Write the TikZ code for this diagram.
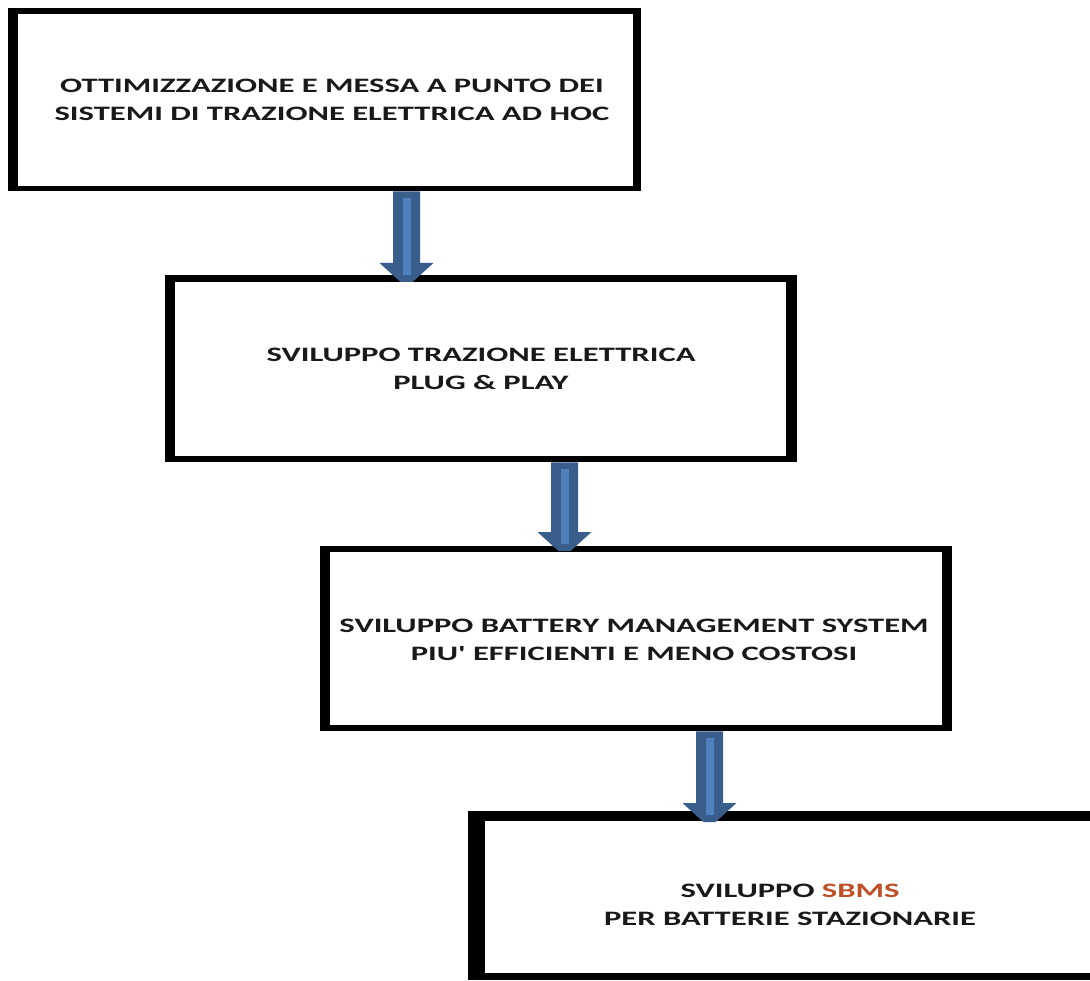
\documentclass[tikz,border=0pt]{standalone}
\usepackage{fontspec}
\setmainfont{Carlito}[Ligatures=TeXOff]
\usetikzlibrary{calc}
\definecolor{arrdark}{RGB}{58,94,140}
\definecolor{arrlight}{RGB}{79,129,189}
\definecolor{txt}{RGB}{25,25,25}
\definecolor{sbms}{RGB}{190,80,40}
\tikzset{
  outerbox/.style={fill=black, draw=none, inner sep=0pt, anchor=north west},
  innerbox/.style={fill=white, draw=none, inner sep=0pt, anchor=north west},
  label/.style={text=txt, font=\fontsize{20.5}{28}\selectfont\bfseries, align=center, inner sep=0pt, xscale=1.59, transform shape},
}
\newcommand\bluearrow[2]{%
  \fill[arrdark] let \p1=(#1), \p2=(#2) in
    (\x1-13.5pt,\y1) -- (\x1+13.5pt,\y1) -- (\x1+13.5pt,\y2+19pt) -- (\x1+27pt,\y2+19pt)
      -- (\x1+6pt,\y2) -- (\x1-6pt,\y2) -- (\x1-27pt,\y2+19pt) -- (\x1-13.5pt,\y2+19pt) -- cycle;
  \fill[arrlight] let \p1=(#1), \p2=(#2) in
    (\x1-3.5pt,\y1-7pt) rectangle (\x1+4pt,\y2+7pt);
}
\begin{document}
\begin{tikzpicture}[x=1pt,y=-1pt]
\useasboundingbox (0,0) rectangle (1090,981);
\fill[white] (0,0) rectangle (1090,981);
% box 1
\node[outerbox, minimum width=633pt, minimum height=183pt] (b1) at (8,8) {};
\node[innerbox, minimum width=615pt, minimum height=172pt] (b1i) at (18,14) {};
% box 2
\node[outerbox, minimum width=632pt, minimum height=187pt] (b2) at (165,275) {};
\node[innerbox, minimum width=611pt, minimum height=174pt] (b2i) at (175,282) {};
% box 3
\node[outerbox, minimum width=632pt, minimum height=185pt] (b3) at (320,546) {};
\node[innerbox, minimum width=612pt, minimum height=173pt] (b3i) at (330,552) {};
% box 4
\node[outerbox, minimum width=630pt, minimum height=169pt] (b4) at (468,811) {};
\node[innerbox, minimum width=620pt, minimum height=152pt] (b4i) at (485,821) {};
% texts
\node[label] (t1) at (332,100) {OTTIMIZZAZIONE E MESSA A PUNTO DEI\\SISTEMI DI TRAZIONE ELETTRICA AD HOC};
\node[label] (t2) at (481,369) {SVILUPPO TRAZIONE ELETTRICA\\PLUG \& PLAY};
\node[label] (t3) at (634,640) {SVILUPPO BATTERY MANAGEMENT SYSTEM\\PIU' EFFICIENTI E MENO COSTOSI};
\node[label] (t4) at (790,905) {SVILUPPO {\color{sbms}SBMS}\\PER BATTERIE STAZIONARIE};
% arrows
\coordinate (x1) at (406.5,0);
\coordinate (x2) at (564.5,0);
\coordinate (x3) at (709.5,0);
\bluearrow{b1.south -| x1}{$(b2.north -| x1)+(0,7)$}
\bluearrow{b2.south -| x2}{$(b3.north -| x2)+(0,5)$}
\bluearrow{b3.south -| x3}{$(b4.north -| x3)+(0,11)$}
\end{tikzpicture}
\end{document}
